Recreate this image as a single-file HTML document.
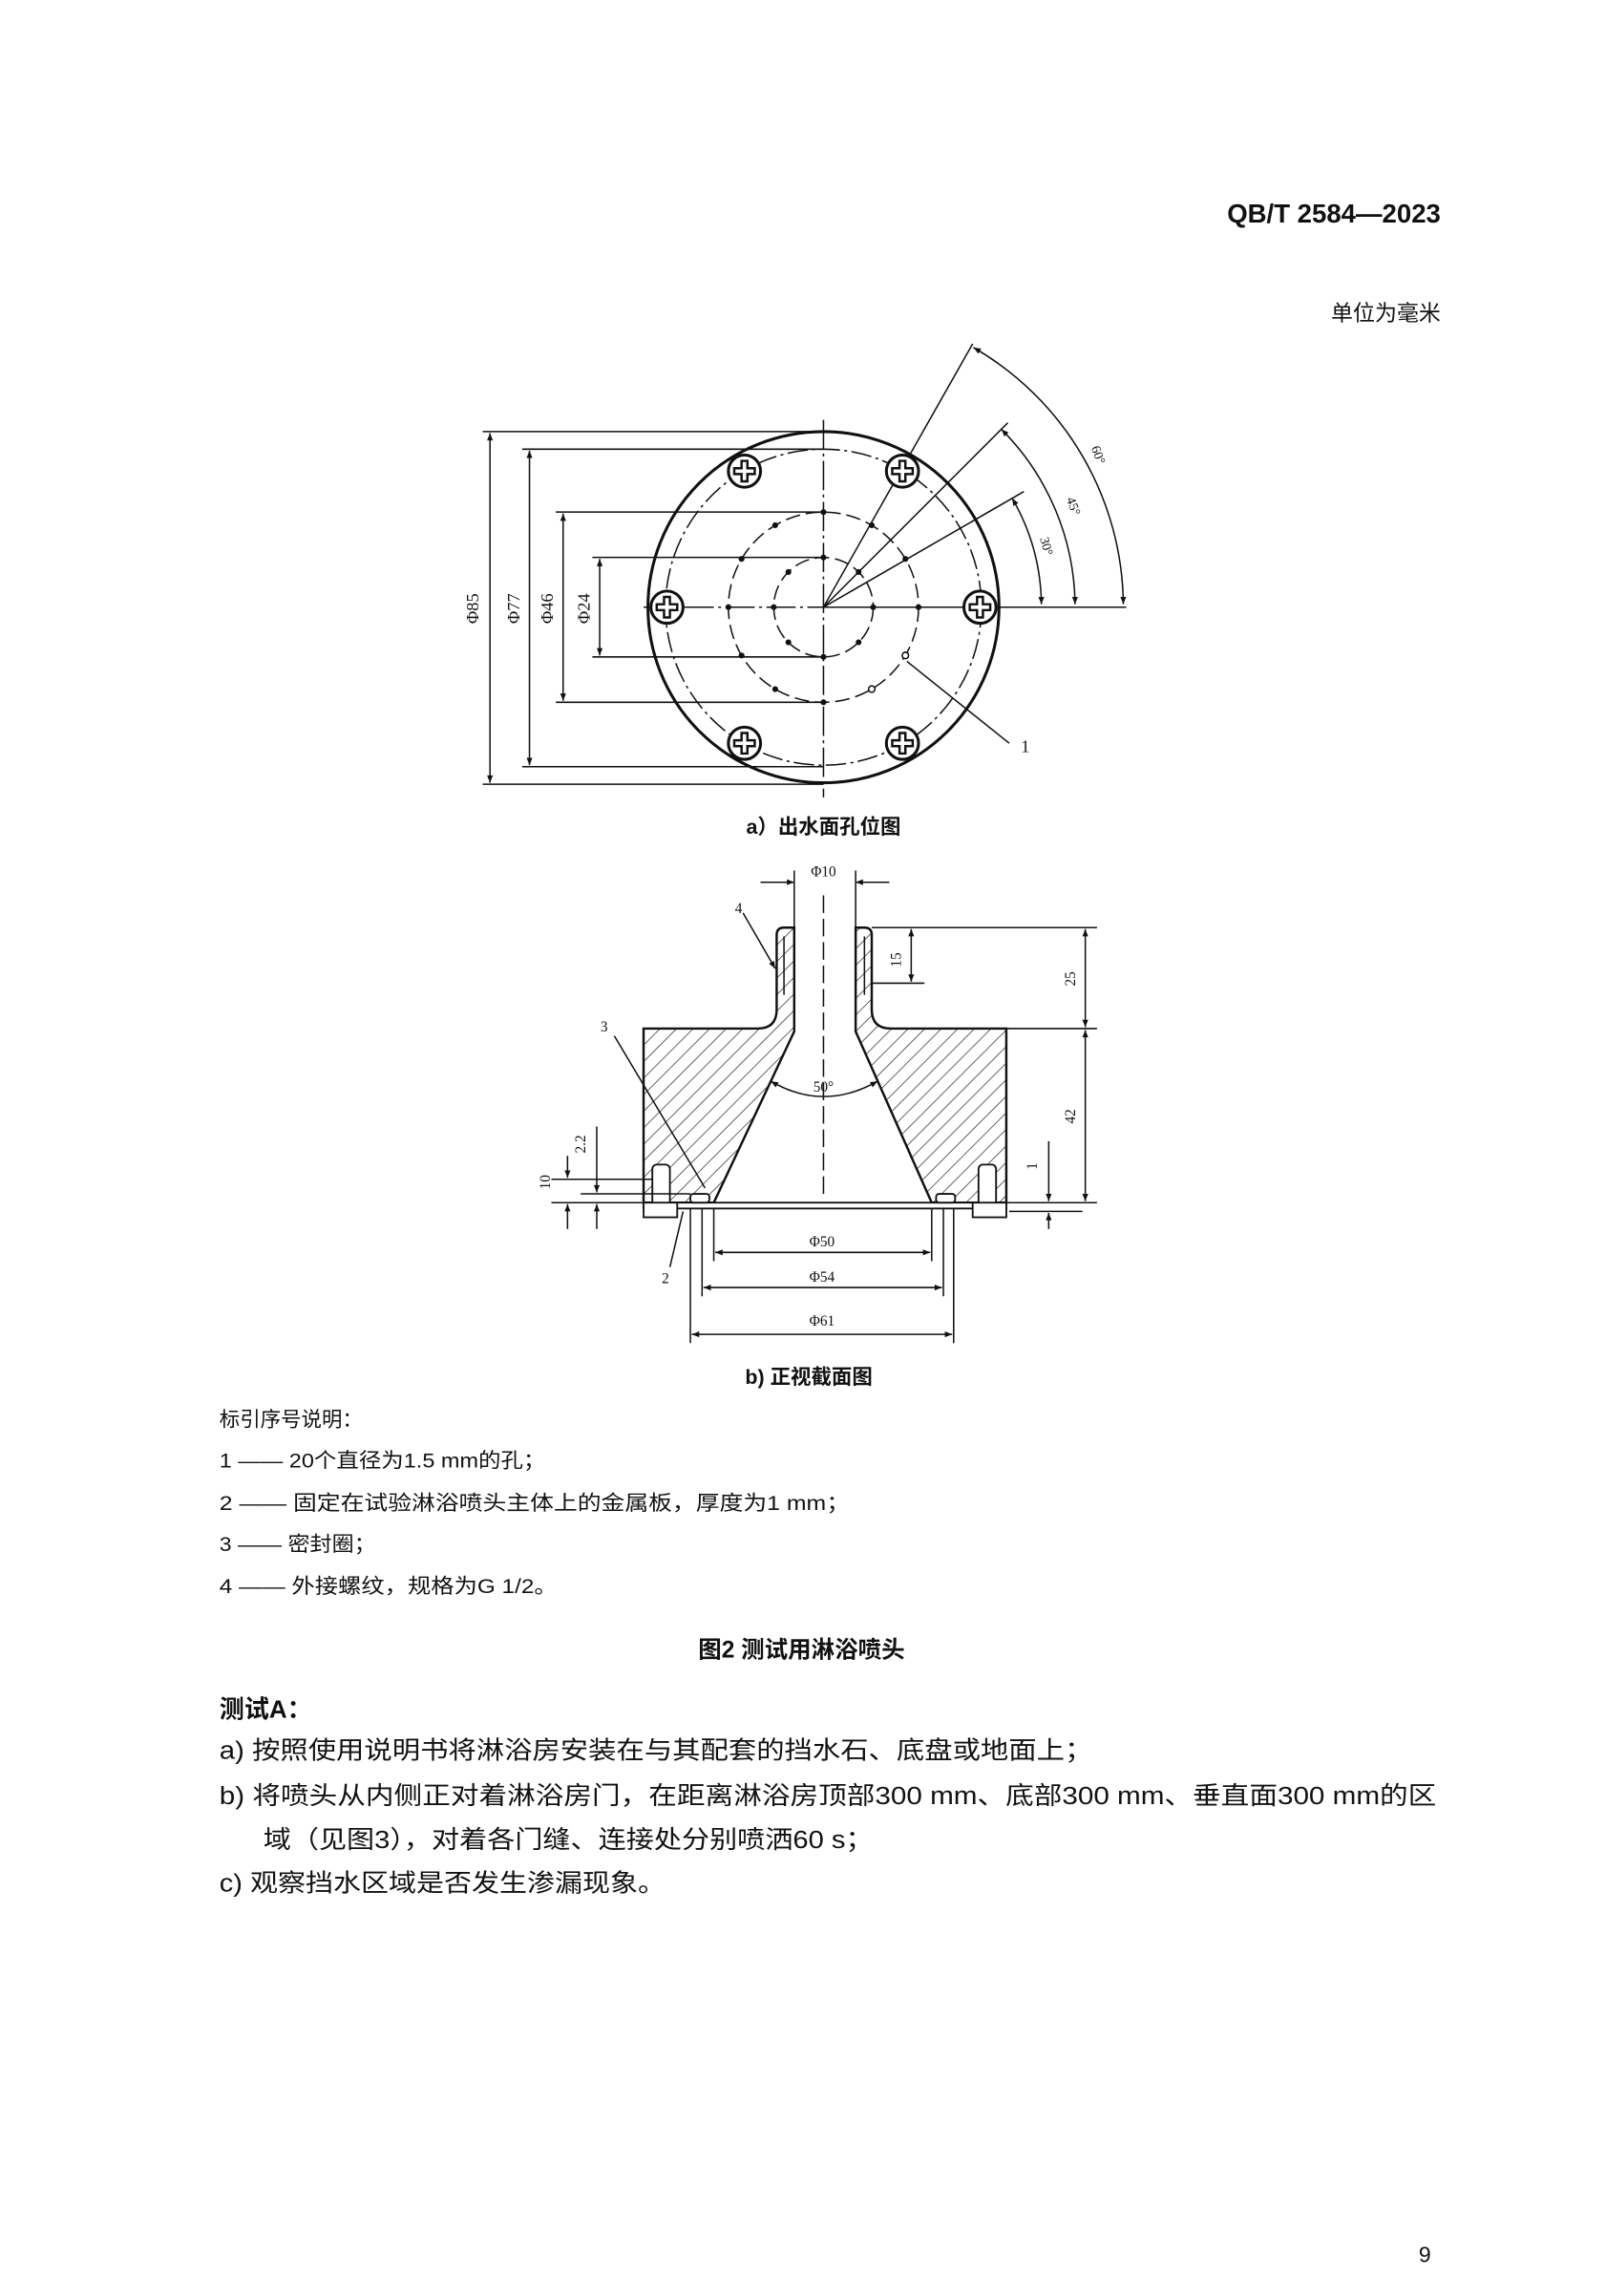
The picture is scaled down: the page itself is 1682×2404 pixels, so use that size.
<!DOCTYPE html>
<html><head><meta charset="utf-8"><style>
html,body{margin:0;padding:0;background:#fff;}
svg{display:block;}
text{font-family:"Liberation Serif","Noto Serif CJK SC","Noto Sans CJK SC",serif;fill:#111;}
.s{font-family:"Liberation Sans","Noto Sans CJK SC",sans-serif;}
</style></head><body>
<svg width="1682" height="2404" viewBox="0 0 1098 1569.3" xmlns="http://www.w3.org/2000/svg">
<defs>
<marker id="a" viewBox="0 0 10 10" refX="10" refY="5" markerWidth="7" markerHeight="5" orient="auto-start-reverse" markerUnits="userSpaceOnUse"><path d="M0,1 L10,5 L0,9 z" fill="#111"/></marker>
<pattern id="h" patternUnits="userSpaceOnUse" width="8" height="8" patternTransform="rotate(45)"><line x1="0" y1="0" x2="0" y2="8" stroke="#222" stroke-width="0.9"/></pattern>
<g id="scr"><circle r="11" fill="#fff" stroke="#111" stroke-width="2"/><path d="M-2,-7 L2,-7 L2,-2 L7,-2 L7,2 L2,2 L2,7 L-2,7 L-2,2 L-7,2 L-7,-2 L-2,-2 Z" fill="none" stroke="#111" stroke-width="1.6"/></g>
</defs>
<rect width="1098" height="1570" fill="#fff"/>
<text x="985" y="152" text-anchor="end" font-size="18" font-weight="bold" class="s">QB/T 2584—2023</text>
<text x="985" y="219" text-anchor="end" font-size="15" class="s">单位为毫米</text>

<!-- Figure a -->
<g stroke="#111" fill="none">
<circle cx="563" cy="415" r="120" stroke-width="2"/>
<circle cx="563" cy="415" r="108" stroke-width="1" stroke-dasharray="14 3 2 3"/>
<circle cx="563" cy="415" r="65" stroke-width="1" stroke-dasharray="10 4"/>
<circle cx="563" cy="415" r="34" stroke-width="1" stroke-dasharray="10 4"/>
<line x1="563" y1="287" x2="563" y2="545" stroke-width="1" stroke-dasharray="20 3 2 3"/>
<line x1="440" y1="415" x2="563" y2="415" stroke-width="1" stroke-dasharray="20 3 2 3"/>
<line x1="563" y1="415" x2="770" y2="415" stroke-width="1"/>
<line x1="330" y1="295" x2="563" y2="295"/><line x1="330" y1="536" x2="563" y2="536"/>
<line x1="357" y1="307" x2="563" y2="307"/><line x1="357" y1="524" x2="563" y2="524"/>
<line x1="380" y1="350" x2="563" y2="350"/><line x1="380" y1="480" x2="563" y2="480"/>
<line x1="405" y1="381" x2="563" y2="381"/><line x1="405" y1="449" x2="563" y2="449"/>
<line x1="335" y1="296" x2="335" y2="535" marker-start="url(#a)" marker-end="url(#a)"/>
<line x1="362" y1="308" x2="362" y2="523" marker-start="url(#a)" marker-end="url(#a)"/>
<line x1="385" y1="351" x2="385" y2="479" marker-start="url(#a)" marker-end="url(#a)"/>
<line x1="410" y1="382" x2="410" y2="448" marker-start="url(#a)" marker-end="url(#a)"/>
<line x1="563" y1="415" x2="665" y2="235"/>
<line x1="563" y1="415" x2="689" y2="289"/>
<line x1="563" y1="415" x2="700" y2="336"/>
<path d="M665.5,237.5 A205,205 0 0 1 768,413" marker-start="url(#a)" marker-end="url(#a)"/>
<path d="M684.6,293.4 A172,172 0 0 1 735,413" marker-start="url(#a)" marker-end="url(#a)"/>
<path d="M692,340.5 A149,149 0 0 1 712,413" marker-start="url(#a)" marker-end="url(#a)"/>
<line x1="620" y1="452" x2="690" y2="508"/>
</g>
<g fill="#111">
<circle cx="597" cy="415" r="2"/><circle cx="529" cy="415" r="2"/><circle cx="563" cy="381" r="2"/><circle cx="563" cy="449" r="2"/>
<circle cx="587" cy="391" r="2"/><circle cx="539" cy="391" r="2"/><circle cx="587" cy="439" r="2"/><circle cx="539" cy="439" r="2"/>
<circle cx="628" cy="415" r="2"/><circle cx="498" cy="415" r="2"/><circle cx="563" cy="350" r="2"/><circle cx="563" cy="480" r="2"/>
<circle cx="619" cy="382" r="2"/><circle cx="596" cy="359" r="2"/><circle cx="530" cy="359" r="2"/><circle cx="507" cy="382" r="2"/>
<circle cx="507" cy="448" r="2"/><circle cx="530" cy="471" r="2"/><circle cx="596" cy="471" r="2.2" fill="#fff" stroke="#111"/><circle cx="619" cy="448" r="2.2" fill="#fff" stroke="#111"/>
</g>
<use href="#scr" x="456" y="415"/><use href="#scr" x="670" y="415"/>
<use href="#scr" x="509" y="322"/><use href="#scr" x="617" y="322"/>
<use href="#scr" x="509" y="508"/><use href="#scr" x="617" y="508"/>
<text font-size="12" transform="translate(327,416) rotate(-90)" text-anchor="middle">Φ85</text>
<text font-size="12" transform="translate(355,416) rotate(-90)" text-anchor="middle">Φ77</text>
<text font-size="12" transform="translate(378,416) rotate(-90)" text-anchor="middle">Φ46</text>
<text font-size="12" transform="translate(403,416) rotate(-90)" text-anchor="middle">Φ24</text>
<text font-size="9" transform="translate(746,306) rotate(70)">60°</text>
<text font-size="9" transform="translate(729,341) rotate(70)">45°</text>
<text font-size="9" transform="translate(711,368) rotate(75)">30°</text>
<text x="698" y="514" font-size="12">1</text>
<text x="563" y="570" text-anchor="middle" font-size="14" class="s" font-weight="bold">a）出水面孔位图</text>

<!-- Figure b -->
<g stroke="#111" stroke-width="1.6">
<path d="M531,690 L531,639 Q531,634 536,634 L543,634 L543,705 L488,822 L440,822 L440,703 L518,703 Q531,703 531,690 Z" fill="url(#h)"/>
<path d="M596,690 L596,639 Q596,634 591,634 L585,634 L585,705 L637,822 L688,822 L688,703 L609,703 Q596,703 596,690 Z" fill="url(#h)"/>
<rect x="440" y="822" width="248" height="4" fill="#fff" stroke-width="1.2"/>
<rect x="446" y="796" width="12" height="30" rx="3" fill="#fff" stroke-width="1.2"/>
<rect x="440" y="822" width="23" height="10" fill="#fff" stroke-width="1.2"/>
<rect x="669" y="796" width="12" height="30" rx="3" fill="#fff" stroke-width="1.2"/>
<rect x="665" y="822" width="23" height="10" fill="#fff" stroke-width="1.2"/>
<rect x="472" y="816" width="13" height="6" rx="2" fill="#fff" stroke-width="1.2"/>
<rect x="640" y="816" width="13" height="6" rx="2" fill="#fff" stroke-width="1.2"/>
</g>
<g stroke="#111" stroke-width="1" fill="none">
<line x1="536" y1="640" x2="536" y2="680"/><line x1="591" y1="640" x2="591" y2="680"/>
<line x1="563" y1="612" x2="563" y2="820" stroke-dasharray="12 4"/>
<path d="M527,739 Q563,760 600,739" marker-start="url(#a)" marker-end="url(#a)"/>
<line x1="543" y1="595" x2="543" y2="634"/><line x1="585" y1="595" x2="585" y2="634"/>
<line x1="520" y1="603" x2="543" y2="603" marker-end="url(#a)"/><line x1="608" y1="603" x2="585" y2="603" marker-end="url(#a)"/>
<line x1="596" y1="634" x2="750" y2="634"/><line x1="596" y1="672" x2="632" y2="672"/><line x1="688" y1="703" x2="750" y2="703"/>
<line x1="623" y1="635" x2="623" y2="671" marker-start="url(#a)" marker-end="url(#a)"/>
<line x1="742" y1="635" x2="742" y2="702" marker-start="url(#a)" marker-end="url(#a)"/>
<line x1="742" y1="704" x2="742" y2="821" marker-start="url(#a)" marker-end="url(#a)"/>
<line x1="688" y1="822" x2="750" y2="822"/><line x1="690" y1="828" x2="740" y2="828"/>
<line x1="717" y1="780" x2="717" y2="821" marker-end="url(#a)"/><line x1="717" y1="840" x2="717" y2="829" marker-end="url(#a)"/>
<line x1="377" y1="806" x2="446" y2="806"/><line x1="377" y1="822" x2="440" y2="822"/><line x1="397" y1="816" x2="472" y2="816"/>
<line x1="388" y1="790" x2="388" y2="805" marker-end="url(#a)"/><line x1="388" y1="840" x2="388" y2="823" marker-end="url(#a)"/>
<line x1="408" y1="770" x2="408" y2="815" marker-end="url(#a)"/><line x1="408" y1="840" x2="408" y2="823" marker-end="url(#a)"/>
<line x1="488" y1="826" x2="488" y2="862"/><line x1="637" y1="826" x2="637" y2="862"/>
<line x1="480" y1="826" x2="480" y2="886"/><line x1="645" y1="826" x2="645" y2="886"/>
<line x1="472" y1="826" x2="472" y2="918"/><line x1="652" y1="826" x2="652" y2="918"/>
<line x1="489" y1="856" x2="636" y2="856" marker-start="url(#a)" marker-end="url(#a)"/>
<line x1="481" y1="880" x2="644" y2="880" marker-start="url(#a)" marker-end="url(#a)"/>
<line x1="473" y1="912" x2="651" y2="912" marker-start="url(#a)" marker-end="url(#a)"/>
<line x1="420" y1="708" x2="482" y2="812"/>
<line x1="508" y1="624" x2="530" y2="662" marker-end="url(#a)"/>
<line x1="458" y1="866" x2="467" y2="828"/>
</g>
<g font-size="10">
<text x="563" y="599" text-anchor="middle">Φ10</text>
<text x="563" y="746" text-anchor="middle">50°</text>
<text transform="translate(616,656) rotate(-90)" text-anchor="middle">15</text>
<text transform="translate(735,669) rotate(-90)" text-anchor="middle">25</text>
<text transform="translate(735,763) rotate(-90)" text-anchor="middle">42</text>
<text transform="translate(709,797) rotate(-90)" text-anchor="middle">1</text>
<text transform="translate(376,808) rotate(-90)" text-anchor="middle">10</text>
<text transform="translate(400,782) rotate(-90)" text-anchor="middle">2.2</text>
<text x="562" y="852" text-anchor="middle">Φ50</text>
<text x="562" y="876" text-anchor="middle">Φ54</text>
<text x="562" y="906" text-anchor="middle">Φ61</text>
<text x="413" y="705" text-anchor="middle">3</text>
<text x="505" y="624" text-anchor="middle">4</text>
<text x="455" y="877" text-anchor="middle">2</text>
</g>
<text x="553" y="946" text-anchor="middle" font-size="14" class="s" font-weight="bold">b) 正视截面图</text>

<g font-size="14">
<text x="150" y="975" class="s">标引序号说明：</text>
<text x="150" y="1003" class="s" textLength="223" lengthAdjust="spacingAndGlyphs">1 —— 20个直径为1.5 mm的孔；</text>
<text x="150" y="1032" class="s" textLength="431" lengthAdjust="spacingAndGlyphs">2 —— 固定在试验淋浴喷头主体上的金属板，厚度为1 mm；</text>
<text x="150" y="1060" class="s" textLength="107" lengthAdjust="spacingAndGlyphs">3 —— 密封圈；</text>
<text x="150" y="1089" class="s" textLength="231" lengthAdjust="spacingAndGlyphs">4 —— 外接螺纹，规格为G 1/2。</text>
</g>
<text x="548" y="1133" text-anchor="middle" font-size="16" class="s" font-weight="bold">图2  测试用淋浴喷头</text>
<g font-size="17" class="s">
<text x="150" y="1174" font-weight="bold" class="s">测试A：</text>
<text x="150" y="1202" class="s" textLength="597" lengthAdjust="spacingAndGlyphs">a) 按照使用说明书将淋浴房安装在与其配套的挡水石、底盘或地面上；</text>
<text x="150" y="1233" class="s" textLength="832" lengthAdjust="spacingAndGlyphs">b) 将喷头从内侧正对着淋浴房门，在距离淋浴房顶部300 mm、底部300 mm、垂直面300 mm的区</text>
<text x="180" y="1263" class="s" textLength="417" lengthAdjust="spacingAndGlyphs">域（见图3），对着各门缝、连接处分别喷洒60 s；</text>
<text x="150" y="1293" class="s" textLength="305" lengthAdjust="spacingAndGlyphs">c) 观察挡水区域是否发生渗漏现象。</text>
</g>
<text x="970" y="1546" font-size="15" class="s">9</text>
</svg>
</body></html>
